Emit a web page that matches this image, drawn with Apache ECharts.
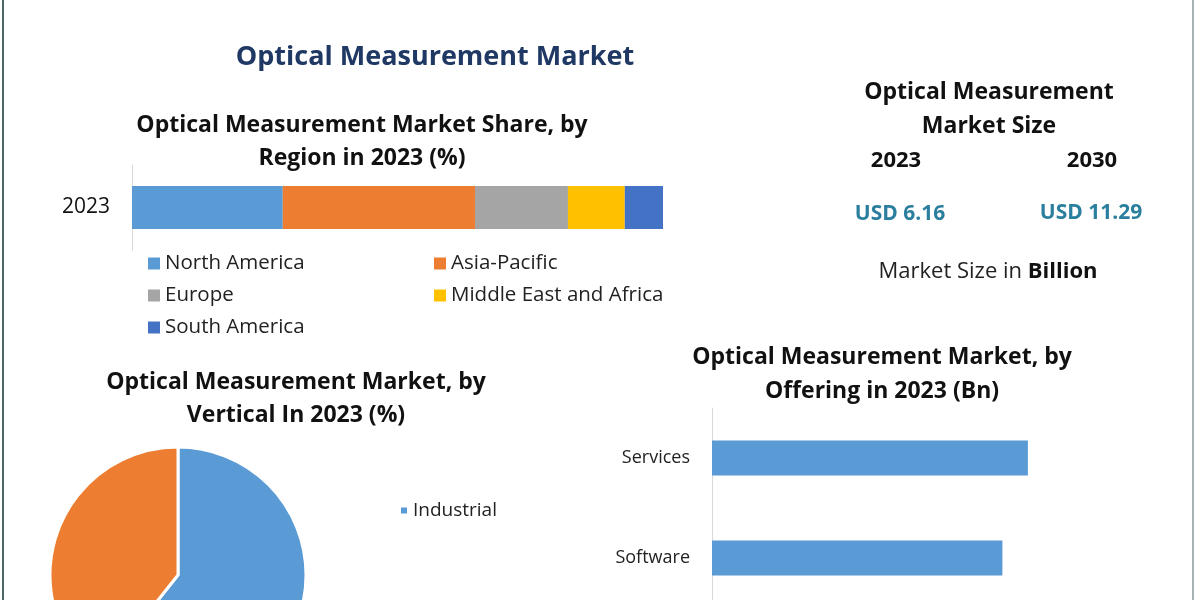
<!DOCTYPE html>
<html>
<head>
<meta charset="utf-8">
<script src="https://cdn.jsdelivr.net/npm/echarts@6/dist/echarts.min.js"></script>
<style>html,body{margin:0;padding:0;background:#fff;}#c{width:1200px;height:600px;}</style>
</head>
<body>
<div id="c"></div>
<script>
// ---- data ----
const regionYear = ['2023'];
const regions = ['North America', 'Asia-Pacific', 'Europe', 'Middle East and Africa', 'South America'];
const regionShare = [28.4, 36.2, 17.5, 10.7, 7.2];
const verticals = ['Industrial', 'Automotive'];
const verticalShare = [60.7, 39.3];
const offerings = ['Hardware', 'Software', 'Services'];
const offeringValues = [1.17, 2.39, 2.6];
const sizeYears = ['2023', '2030'];
const sizeValues = ['USD 6.16', 'USD 11.29'];

const regionColors = ['#5b9bd5', '#ed7d31', '#a5a5a5', '#ffc000', '#4472c4'];
const FONT = '"Open Sans", Lato, sans-serif';

const chart = echarts.init(document.getElementById('c'));

const regionSeries = regions.map((name, i) => ({
  name: name,
  type: 'bar',
  stack: 'r',
  xAxisIndex: 0, yAxisIndex: 0,
  barWidth: 43,
  itemStyle: { color: regionColors[i] },
  data: [regionShare[i]],
  silent: true
}));

function txt(x, y, text, size, opts) {
  return {
    type: 'text', x: x, y: y,
    style: Object.assign({
      text: text, fill: '#111', font: 'bold ' + size + 'px ' + FONT,
      align: 'center', verticalAlign: 'middle'
    }, (opts || {}))
  };
}

chart.setOption({
  animation: false,
  backgroundColor: '#ffffff',
  textStyle: { fontFamily: FONT },
  grid: [
    { left: 132, width: 531, top: 165, height: 85, outerBoundsMode: 'none', containLabel: false },
    { left: 712, width: 486, top: 408, height: 300, outerBoundsMode: 'none', containLabel: false }
  ],
  xAxis: [
    { gridIndex: 0, type: 'value', min: 0, max: 100, show: false },
    { gridIndex: 1, type: 'value', min: 0, max: 4, show: false }
  ],
  yAxis: [
    { gridIndex: 0, type: 'category', data: regionYear,
      axisLine: { show: true, lineStyle: { color: '#d9d9d9' } }, axisTick: { show: false },
      axisLabel: { color: '#111', fontSize: 21, margin: 22, fontFamily: FONT } },
    { gridIndex: 1, type: 'category', data: offerings,
      axisLine: { show: true, lineStyle: { color: '#d9d9d9' } }, axisTick: { show: false },
      axisLabel: { color: '#222', fontSize: 18, margin: 22, padding: [4, 0, 0, 0], fontFamily: FONT } }
  ],
  legend: [
    { data: ['North America', 'Europe', 'South America'], orient: 'vertical', left: 143, top: 248,
      icon: 'rect', itemWidth: 12, itemHeight: 12, itemGap: 11, selectedMode: false,
      textStyle: { color: '#222', fontSize: 20.5, fontFamily: FONT } },
    { data: ['Asia-Pacific', 'Middle East and Africa'], orient: 'vertical', left: 429, top: 248,
      icon: 'rect', itemWidth: 12, itemHeight: 12, itemGap: 11, selectedMode: false,
      textStyle: { color: '#222', fontSize: 20.5, fontFamily: FONT } },
    { data: [verticals[0]], orient: 'vertical', left: 394, top: 496,
      icon: 'rect', itemWidth: 8, itemHeight: 8, selectedMode: false,
      textStyle: { color: '#222', fontSize: 19, fontFamily: FONT } }
  ],
  series: regionSeries.concat([
    {
      type: 'pie', center: [178, 575], radius: 128, startAngle: 90, clockwise: true,
      label: { show: false }, labelLine: { show: false }, silent: true,
      itemStyle: { borderColor: '#ffffff', borderWidth: 3 },
      data: verticals.map((v, i) => ({ name: v, value: verticalShare[i], itemStyle: { color: ['#5b9bd5', '#ed7d31'][i] } }))
    },
    {
      type: 'bar', xAxisIndex: 1, yAxisIndex: 1, barWidth: 35, silent: true,
      itemStyle: { color: '#5b9bd5' }, data: offeringValues
    }
  ]),
  graphic: [
    { type: 'line', shape: { x1: 3, y1: 0, x2: 3, y2: 600 }, style: { stroke: '#4d6666', lineWidth: 2 } },
    { type: 'line', shape: { x1: 1193, y1: 0, x2: 1193, y2: 600 }, style: { stroke: '#8a9a9a', lineWidth: 1.5 } },
    txt(435, 57, 'Optical Measurement Market', 27, { fill: '#1f3864' }),
    txt(362, 125, 'Optical Measurement Market Share, by', 23),
    txt(362, 158, 'Region in 2023 (%)', 23),
    txt(296, 382, 'Optical Measurement Market, by', 23),
    txt(296, 415, 'Vertical In 2023 (%)', 23),
    txt(882, 357, 'Optical Measurement Market, by', 23),
    txt(882, 391, 'Offering in 2023 (Bn)', 23),
    txt(989, 92, 'Optical Measurement', 23),
    txt(989, 126, 'Market Size', 23),
    txt(896, 161, sizeYears[0], 22),
    txt(1092, 161, sizeYears[1], 22),
    txt(900, 214, sizeValues[0], 21, { fill: '#2a7f9e' }),
    txt(1091, 213, sizeValues[1], 21, { fill: '#2a7f9e' }),
    { type: 'text', x: 988, y: 272, style: {
        text: '{n|Market Size in }{b|Billion}', align: 'center', verticalAlign: 'middle',
        rich: {
          n: { font: '22px ' + FONT, fill: '#222' },
          b: { font: 'bold 22px ' + FONT, fill: '#111' }
        }
      } }
  ]
});
</script>
</body>
</html>
